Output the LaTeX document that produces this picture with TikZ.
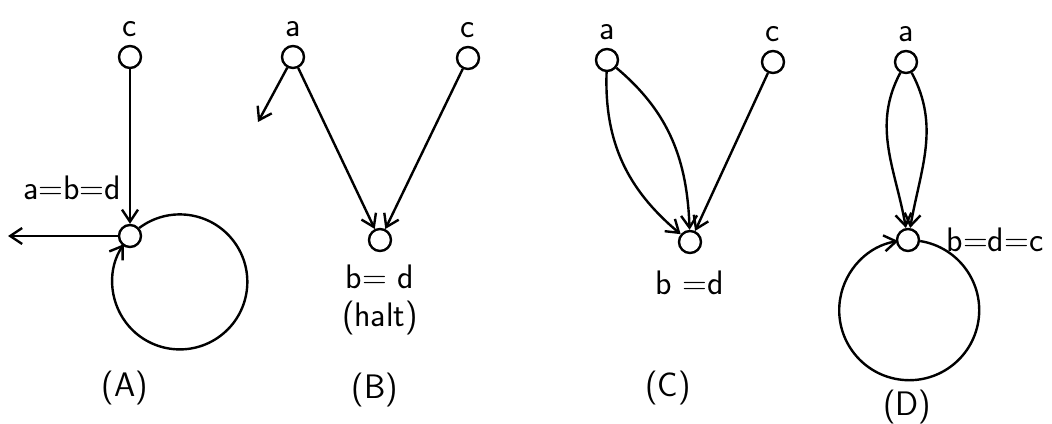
\documentclass[tikz,border=0pt]{standalone}
\usepackage{tikz}
\usetikzlibrary{positioning, arrows.meta}

\begin{document}
\begin{tikzpicture}[
    x=0.5pt, y=0.5pt,
    node distance=3pt,
    vtx/.style={draw, circle, line width=1.2pt, minimum size=11pt, inner sep=0pt},
    arr/.style={-{Straight Barb[length=6pt, width=8pt]}, line width=1.2pt},
    lbl/.style={font=\sffamily\fontsize{17}{19}\selectfont, inner sep=1pt, align=center}
]
\useasboundingbox (0,0) rectangle (1052,423);

% (A)
\node[vtx] (cA) at (130,366) {};
\node[lbl, above=of cA] (cAl) {c};
\node[vtx] (abdA) at (130,187) {};
\node[lbl] (abdAl) at (72,235) {a=b=d};
\coordinate (outA) at (8,187);
\draw[arr] (cA) -- (abdA);
\draw[arr] (abdA) -- (outA);
\draw[arr] (abdA.41) arc[start angle=127, end angle=-214, radius=67.5];
\node[lbl] (capA) at (125,35) {(A)};

% (B)
\node[vtx] (aB) at (293,366) {};
\node[lbl, above=of aB] (aBl) {a};
\node[vtx] (cB) at (468,365) {};
\node[lbl, above=of cB] (cBl) {c};
\node[vtx] (bB) at (380,183) {};
\node[lbl, below=5pt of bB] (bBl) {b= d\\(halt)};
\coordinate (outB) at (258,301);
\draw[arr] (aB) -- (outB);
\draw[arr] (aB) -- (bB);
\draw[arr] (cB) -- (bB);
\node[lbl] (capB) at (375,33) {(B)};

% (C)
\node[vtx] (aC) at (607,363) {};
\node[lbl, above=of aC] (aCl) {a};
\node[vtx] (cC) at (773,361) {};
\node[lbl, above=of cC] (cCl) {c};
\node[vtx] (bC) at (690,181) {};
\node[lbl, below=7pt of bC] (bCl) {b =d};
\draw[arr] (aC) to[out=-92, in=140] (bC);
\draw[arr] (aC) to[out=-40, in=92] (bC);
\draw[arr] (cC) -- (bC);
\node[lbl] (capC) at (668,35) {(C)};

% (D)
\node[vtx] (aD) at (906,361) {};
\node[lbl, above=of aD] (aDl) {a};
\node[vtx] (bD) at (908,183) {};
\node[lbl, right=12pt of bD] (bDl) {b=d=c};
\draw[arr] (aD) to[out=-118, in=100] (bD);
\draw[arr] (aD) to[out=-62, in=80] (bD);
\draw[arr] (bD.-5) arc[start angle=81, end angle=-261, radius=70];
\node[lbl] (capD) at (907,16) {(D)};

\end{tikzpicture}
\end{document}
